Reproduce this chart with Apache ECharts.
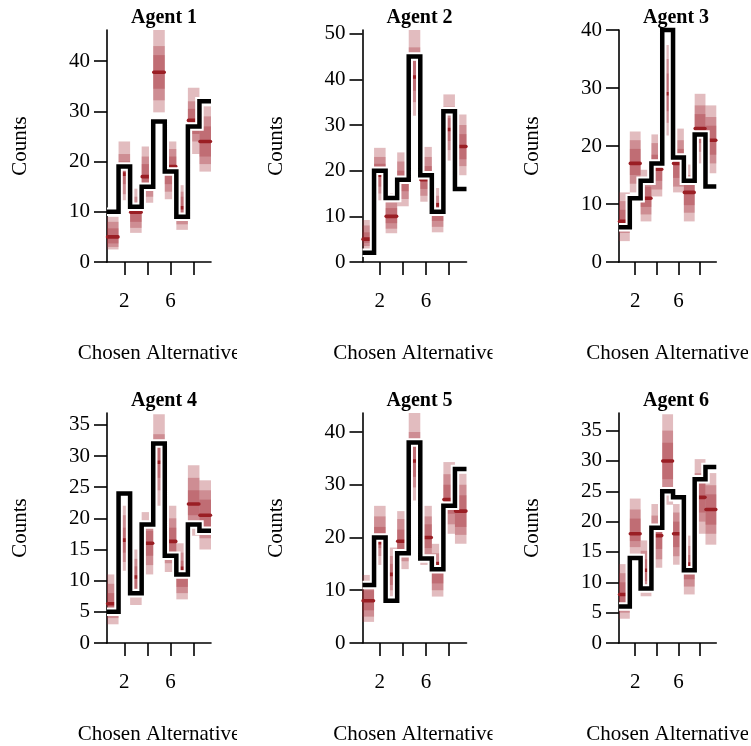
<!DOCTYPE html>
<html><head><meta charset="utf-8">
<script src="https://cdn.jsdelivr.net/npm/echarts@6/dist/echarts.min.js"></script>
<style>html,body{margin:0;padding:0;background:#fff}#c{width:751px;height:746px}</style>
</head><body><div id="c"></div>
<script>
const agents = ['Agent 1', 'Agent 2', 'Agent 3', 'Agent 4', 'Agent 5', 'Agent 6'];
const categories = [1, 2, 3, 4, 5, 6, 7, 8, 9];
const xTickValues = [2, 4, 6, 8];
const xLabelValues = [2, 6];
const yMax = [46.2, 50.8, 40, 36.9, 43.6, 37.9];
const yTicks = [
  [0, 10, 20, 30, 40],
  [0, 10, 20, 30, 40, 50],
  [0, 10, 20, 30, 40],
  [0, 5, 10, 15, 20, 25, 30, 35],
  [0, 10, 20, 30, 40],
  [0, 5, 10, 15, 20, 25, 30, 35]
];
// observed counts per agent (black step line)
const observed = [
  [10, 19, 11, 15, 28, 18, 9, 27, 32],
  [2, 20, 14, 18, 45, 19, 11, 33, 16],
  [6, 11, 14, 17, 40, 18, 14, 22, 13],
  [5, 24, 8, 19, 32, 14, 11, 19, 18],
  [11, 20, 8, 17, 38, 16, 14, 26, 33],
  [6, 14, 9, 19, 25, 24, 12, 27, 29]
];
// predictive medians
const median = [
  [5, 17.5, 9.9, 17, 37.8, 19, 10.8, 28.2, 24],
  [5, 19, 10, 18, 40.5, 18, 12.5, 29, 25.3],
  [7, 17, 11, 16, 29, 17, 12, 23, 21],
  [6.3, 16.5, 10.6, 16, 29, 16.3, 12, 22.3, 20.5],
  [8, 19, 13, 19.3, 34.5, 20, 15, 27.2, 25],
  [8, 18, 12, 17.7, 30, 18, 13, 24, 22]
];
// outer intervals
const outerLo = [
  [2.5, 12.3, 5.8, 11.8, 29.8, 12.5, 6.4, 21.5, 18],
  [2.5, 13.5, 6.3, 12.2, 32, 13.2, 6.5, 22.2, 19],
  [3.6, 12, 7, 11.3, 21.8, 12, 7, 17, 15.3],
  [3, 11.6, 6.1, 11, 22, 11.4, 7, 17.2, 15],
  [4, 14.8, 8.8, 14, 27, 14.8, 8.8, 20.7, 18.8],
  [4, 14.7, 7.7, 12.4, 22.8, 12.9, 8, 18, 16.2]
];
const outerHi = [
  [9, 24, 14.6, 23, 46.2, 24, 15.3, 34.7, 31],
  [9.2, 25, 15, 24, 50.8, 25.2, 16.2, 36.7, 32.3],
  [12, 22.5, 15.9, 22, 37.4, 23, 16.8, 29, 27],
  [11, 22, 15, 21, 36.7, 22, 16, 28.5, 26.1],
  [12.9, 26, 18.1, 25, 43.6, 26, 18.8, 34.3, 32.1],
  [13, 23.8, 16.9, 22.9, 37.7, 22.9, 17.7, 30.3, 28]
];
// middle intervals
const midLo = [
  [3, 13.5, 6.8, 13, 32.2, 14, 7.5, 24, 19.5],
  [3.5, 15, 7.3, 13.8, 35, 14.5, 7.7, 24.5, 21],
  [5, 13.5, 8.2, 12.5, 24, 13, 8.5, 19, 17],
  [4, 13, 7.5, 12.5, 24.5, 12.8, 8, 19, 16.8],
  [5, 16.5, 10, 15.5, 29.5, 16.5, 10, 22.5, 20.5],
  [5, 15.8, 9, 13.8, 25.5, 14.3, 9.3, 20, 18]
];
const midHi = [
  [8, 21.5, 13, 21, 43, 22.5, 14, 32, 29],
  [8, 23, 13, 22, 47, 23, 14.5, 34, 30],
  [10.5, 21, 14.5, 20.5, 35, 21, 15, 27, 25],
  [9.5, 20.5, 13.5, 19.5, 33.5, 20, 14.5, 26.5, 24.5],
  [11, 24, 16.5, 23.5, 40, 24, 17, 32, 30],
  [11.5, 22, 15.2, 21, 35, 21.5, 16, 28, 26]
];
// inner intervals
const innerLo = [
  [3.7, 15.5, 8, 15, 34.5, 15.5, 8.5, 25.5, 21],
  [4.2, 16.5, 8.5, 15.5, 37.5, 16, 9, 26.5, 22.5],
  [6, 15, 9.5, 14, 26, 14.5, 9.8, 20.5, 18.5],
  [5, 14.5, 8.8, 14, 26.5, 14.3, 9, 20.5, 18.5],
  [6.2, 18, 11, 17, 31.5, 18, 11.3, 24.5, 22],
  [6.2, 16.8, 10.2, 15.5, 27, 15.8, 10.5, 21.5, 19.5]
];
const innerHi = [
  [6.7, 20, 11.5, 19.5, 41.2, 21, 13, 30.5, 27],
  [6.5, 21.5, 11.8, 20, 44, 21, 13, 31.5, 28],
  [9, 19.5, 13, 18.5, 32.5, 19.5, 13.8, 25.5, 23.5],
  [8, 18.5, 12.3, 18, 31.5, 18.5, 13.2, 24.5, 23],
  [10, 22, 15, 21.5, 38, 22.5, 15.5, 30, 28],
  [10, 20.5, 13.8, 19.5, 33, 20, 14.5, 26.5, 24.5]
];

const FONT = 'Liberation Serif';
const FS = 21;
const colLeft = [107, 362.5, 619];
const rowTop = [30, 413];
const gridW = 104, gridH = 232;

const grids = [], xAxes = [], yAxes = [], series = [], titles = [];
agents.forEach((name, a) => {
  const col = a % 3, row = Math.floor(a / 3);
  grids.push({left: colLeft[col], top: rowTop[row], width: gridW, height: gridH});
  titles.push({
    text: name, left: colLeft[col] + gridW / 2, top: rowTop[row] - 27, textAlign: 'center',
    textStyle: {fontFamily: FONT, fontSize: 20, fontWeight: 'bold', color: '#000'}
  });
  xAxes.push({
    type: 'value', gridIndex: a, min: 0.5, max: 9.5,
    name: 'Chosen Alternative', nameLocation: 'middle', nameGap: 81,
    nameTextStyle: {fontFamily: FONT, fontSize: FS, color: '#000'},
    axisLine: {show: true, onZero: false, lineStyle: {color: '#000', width: 1.6}},
    axisTick: {show: true, length: 13, customValues: xTickValues, lineStyle: {color: '#000', width: 1.6}},
    axisLabel: {customValues: xLabelValues, margin: 29, fontFamily: FONT, fontSize: FS, color: '#000'},
    splitLine: {show: false}
  });
  yAxes.push({
    type: 'value', gridIndex: a, min: 0, max: yMax[a],
    name: 'Counts', nameLocation: 'middle', nameGap: 76,
    nameTextStyle: {fontFamily: FONT, fontSize: FS, color: '#000'},
    axisLine: {show: true, onZero: false, lineStyle: {color: '#000', width: 1.6}},
    axisTick: {show: true, length: 13, customValues: yTicks[a], lineStyle: {color: '#000', width: 1.6}},
    axisLabel: {customValues: yTicks[a], margin: 17, fontFamily: FONT, fontSize: FS, color: '#000'},
    splitLine: {show: false}
  });
  const levels = [[outerLo, outerHi], [midLo, midHi], [innerLo, innerHi]];
  const rectData = [];
  levels.forEach(([lo, hi]) => {
    categories.forEach((c, i) => rectData.push([c, lo[a][i], hi[a][i]]));
  });
  series.push({
    type: 'custom', xAxisIndex: a, yAxisIndex: a, z: 2, silent: true,
    data: rectData,
    renderItem: (params, api) => {
      const x = api.value(0), lo = api.value(1), hi = api.value(2);
      const p1 = api.coord([x - 0.5, hi]), p2 = api.coord([x + 0.5, lo]);
      return {type: 'rect', shape: {x: p1[0], y: p1[1], width: p2[0] - p1[0], height: p2[1] - p1[1]},
        style: {fill: 'rgba(160,38,48,0.31)'}};
    }
  });
  series.push({
    type: 'custom', xAxisIndex: a, yAxisIndex: a, z: 3, silent: true,
    data: categories.map((c, i) => [c, median[a][i]]),
    renderItem: (params, api) => {
      const x = api.value(0), m = api.value(1);
      const p1 = api.coord([x - 0.45, m]), p2 = api.coord([x + 0.45, m]);
      return {type: 'line', shape: {x1: p1[0], y1: p1[1], x2: p2[0], y2: p2[1]},
        style: {stroke: '#9a1e24', lineWidth: 3.6, lineCap: 'round'}};
    }
  });
  series.push({
    type: 'custom', xAxisIndex: a, yAxisIndex: a, z: 4, silent: true,
    data: categories.map((c, i) => [c, observed[a][i]]),
    renderItem: (params, api) => {
      if (params.dataIndex !== 0) return null;
      const pts = [];
      categories.forEach((c, i) => {
        pts.push(api.coord([c - 0.5, observed[a][i]]));
        pts.push(api.coord([c + 0.5, observed[a][i]]));
      });
      return {type: 'group', children: [
        {type: 'polyline', shape: {points: pts}, style: {fill: null, stroke: '#fff', lineWidth: 8.5, lineJoin: 'miter', lineCap: 'butt'}},
        {type: 'polyline', shape: {points: pts}, style: {fill: null, stroke: '#000', lineWidth: 4.5, lineJoin: 'miter', lineCap: 'butt'}}
      ]};
    }
  });
});

const chart = echarts.init(document.getElementById('c'), null, {renderer: 'canvas'});
chart.setOption({
  animation: false,
  backgroundColor: '#fff',
  title: titles,
  grid: grids,
  xAxis: xAxes,
  yAxis: yAxes,
  series: series,
  graphic: [
    {type: 'rect', shape: {x: 237, y: 330, width: 24, height: 45}, style: {fill: '#fff'}, z: 100},
    {type: 'rect', shape: {x: 237, y: 713, width: 24, height: 33}, style: {fill: '#fff'}, z: 100},
    {type: 'rect', shape: {x: 492.5, y: 330, width: 22, height: 45}, style: {fill: '#fff'}, z: 100},
    {type: 'rect', shape: {x: 492.5, y: 713, width: 22, height: 33}, style: {fill: '#fff'}, z: 100},
    {type: 'rect', shape: {x: 748, y: 330, width: 5, height: 45}, style: {fill: '#fff'}, z: 100},
    {type: 'rect', shape: {x: 748, y: 713, width: 5, height: 33}, style: {fill: '#fff'}, z: 100}
  ]
});
</script></body></html>
